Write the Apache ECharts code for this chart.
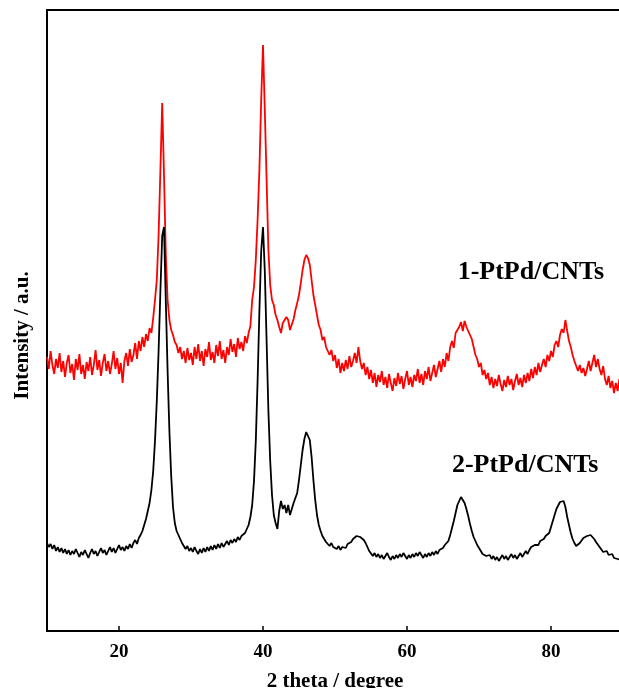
<!DOCTYPE html>
<html>
<head>
<meta charset="utf-8">
<script src="https://cdn.jsdelivr.net/npm/echarts@6/dist/echarts.min.js"></script>
<style>
html,body{margin:0;padding:0;background:#fff;overflow:hidden;}
#chart{width:619px;height:688px;}
</style>
</head>
<body>
<div id="chart"></div>
<script>
// 2θ sampling: start and step (degrees)
const thetaStart = 10;
const thetaStep = 0.25;
const xTicks = [20, 40, 60, 80];

// 1-PtPd/CNTs intensities (a.u.), 10°..90° every 0.25°
const pt1 = [
274,262,280,266, 257,272,263,278, 259,270,254,268, 276,258,267,251,
272,261,277,257, 266,252,269,260, 274,256,266,281, 261,271,255,268,
277,260,270,257, 267,280,262,273, 257,268,248,270, 278,265,282,269,
276,288,272,290, 280,294,284,297, 290,303,298,313, 331,351,396,461,
528,456,376,331, 311,301,296,289, 286,278,284,272, 280,268,283,271,
278,266,284,272, 287,270,280,265, 282,274,289,271, 279,268,286,275,
290,272,281,268, 284,276,292,279, 287,274,293,282, 289,280,295,288,
298,305,331,344, 371,411,461,531, 586,521,451,381, 346,331,326,316,
311,304,298,308, 306,314,311,301, 303,312,321,328, 336,348,361,371,
376,373,366,351, 336,326,316,306, 301,291,294,284, 286,276,281,270,
276,263,272,258, 268,260,271,262, 275,264,270,278, 268,284,270,262,
268,256,264,252, 261,248,258,244, 256,249,260,246, 254,243,257,248,
240,253,245,258, 247,255,242,252, 260,246,254,244, 256,250,262,248,
257,246,260,252, 264,250,258,266, 254,262,270,259, 272,264,278,270,
284,290,283,298, 296,304,309,300, 310,304,306,296, 292,284,276,272,
264,268,256,261, 252,258,246,254, 243,252,245,256, 247,240,251,244,
255,246,252,241, 250,257,246,253, 244,256,248,258, 250,262,253,264,
256,268,259,266, 272,264,276,270, 280,274,286,290, 284,296,302,298,
311,300,290,284, 276,270,265,260, 266,258,263,255, 262,270,260,268,
276,264,272,262, 256,265,252,246, 255,243,250,238, 248,240,252,245,
250
];

// 2-PtPd/CNTs intensities (a.u.), 10°..90° every 0.25°
const pt2 = [
88,84,87,82, 86,80,84,79, 83,78,82,77, 81,76,80,77,
82,78,74,79, 76,81,77,73, 78,82,77,80, 75,79,83,78,
81,76,80,84, 79,83,78,82, 86,81,84,80, 85,82,87,83,
88,91,87,93, 96,100,106,112, 120,128,141,160, 190,230,280,340,
395,404,330,260, 200,155,124,108, 100,96,92,88, 86,82,85,80,
83,79,84,80, 77,82,78,83, 79,84,80,85, 81,86,82,87,
83,88,84,86, 90,86,91,88, 92,89,94,91, 95,93,98,100,
106,114,126,150, 190,250,320,380, 404,360,290,220, 170,136,116,108,
102,120,130,122, 126,118,126,116, 122,128,130,138, 151,166,181,192,
199,201,191,174, 151,131,116,106, 100,95,92,89, 87,85,88,84,
86,82,85,81, 84,86,83,87, 85,89,92,90, 95,97,94,96,
91,88,84,80, 78,75,78,74, 77,73,76,72, 75,78,74,71,
75,72,76,73, 77,74,78,75, 72,76,73,77, 74,78,75,79,
76,73,77,74, 78,75,79,76, 80,77,81,79, 83,86,84,90,
96,103,110,118, 126,130,134,133, 128,122,115,107, 100,94,90,86,
83,80,77,79, 75,73,76,72, 75,71,74,70, 73,76,72,75,
71,74,77,73, 76,72,75,78, 74,77,80,77, 81,84,82,86,
88,86,90,88, 92,95,93,98, 104,110,116,122, 124,129,131,130,
124,114,106,98, 92,88,85,86, 88,90,93,92, 95,93,96,94,
92,89,87,84, 82,79,77,80, 76,74,77,73, 75,72,74,71,
73
];

// Curve labels: [name, 2θ, intensity]
const curveLabels = [
  ['1-PtPd/CNTs', 77.2, 359],
  ['2-PtPd/CNTs', 76.4, 166]
];

function pairs(arr) {
  return arr.map((v, i) => [thetaStart + i * thetaStep, v]);
}

const serif = '"Liberation Serif", "DejaVu Serif", serif';
const chart = echarts.init(document.getElementById('chart'), null, {renderer: 'canvas'});
chart.setOption({
  animation: false,
  backgroundColor: '#fff',
  grid: {
    left: 47, right: -4, top: 10, bottom: 57,
    show: true, borderColor: '#000', borderWidth: 2,
    outerBoundsMode: 'none'
  },
  xAxis: {
    type: 'value', min: 10, max: 90,
    name: '2 theta / degree', nameLocation: 'middle', nameGap: 40,
    nameTextStyle: {fontFamily: serif, fontWeight: 'bold', fontSize: 21, color: '#000'},
    axisLine: {show: true, lineStyle: {color: '#000', width: 2}},
    axisTick: {show: true, inside: true, length: 5, lineStyle: {color: '#000', width: 1.5}, customValues: xTicks},
    axisLabel: {show: true, customValues: xTicks, fontFamily: serif, fontWeight: 'bold', fontSize: 19, color: '#000', margin: 12},
    splitLine: {show: false}
  },
  yAxis: {
    type: 'value', min: 0, max: 621,
    name: 'Intensity / a.u.', nameLocation: 'middle', nameGap: 14,
    nameTextStyle: {fontFamily: serif, fontWeight: 'bold', fontSize: 21, color: '#000', padding: [0, 30, 0, 0]},
    axisLine: {show: true, lineStyle: {color: '#000', width: 2}},
    axisTick: {show: false},
    axisLabel: {show: false},
    splitLine: {show: false}
  },
  series: [
    {
      name: '1-PtPd/CNTs', type: 'line', data: pairs(pt1), showSymbol: false,
      lineStyle: {color: '#ff0000', width: 1.8}, itemStyle: {color: '#ff0000'}, z: 3
    },
    {
      name: '2-PtPd/CNTs', type: 'line', data: pairs(pt2), showSymbol: false,
      lineStyle: {color: '#000', width: 1.8}, itemStyle: {color: '#000'}, z: 3
    },
    {
      name: 'labels', type: 'scatter', symbolSize: 0, silent: true,
      itemStyle: {color: '#000'},
      data: curveLabels.map(d => ({name: d[0], value: [d[1], d[2]]})),
      label: {show: true, position: 'inside', formatter: p => p.name,
        fontFamily: serif, fontWeight: 'bold', fontSize: 26, color: '#000',
        textBorderWidth: 0, opacity: 1},
      emphasis: {disabled: true},
      z: 5
    }
  ]
});
</script>
</body>
</html>
